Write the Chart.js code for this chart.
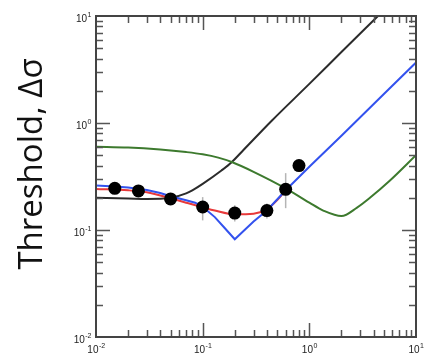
<!DOCTYPE html>
<html>
<head>
<meta charset="utf-8">
<script src="https://cdn.jsdelivr.net/npm/chart.js@4/dist/chart.umd.min.js"></script>
<style>
  html, body { margin: 0; padding: 0; background: #fff; }
  #wrap { width: 425px; height: 360px; }
</style>
</head>
<body>
<div id="wrap"><canvas id="chart"></canvas></div>
<script>
// measured points with error bars
const dotX = [0.015, 0.025, 0.05, 0.1, 0.2, 0.4, 0.6, 0.8];
const dotY = [0.245, 0.232, 0.195, 0.164, 0.144, 0.152, 0.24, 0.40];
const errLow = [null, null, null, 0.123, 0.12, 0.128, 0.16, null];
const errHigh = [null, null, null, 0.203, 0.17, 0.177, 0.34, null];

// model curves
const blueX = [0.01, 0.015, 0.02, 0.03, 0.04, 0.05, 0.07, 0.085, 0.1, 0.13, 0.16, 0.2, 0.3, 0.4, 0.6, 1, 2, 5, 10];
const blueY = [0.26, 0.255, 0.25, 0.237, 0.222, 0.207, 0.19, 0.18, 0.165, 0.132, 0.105, 0.082, 0.12, 0.152, 0.235, 0.39, 0.76, 1.87, 3.67];
const redX = [0.01, 0.02, 0.03, 0.05, 0.07, 0.1, 0.13, 0.2, 0.3, 0.4, 0.5, 0.6];
const redY = [0.242, 0.235, 0.225, 0.198, 0.18, 0.163, 0.152, 0.14, 0.142, 0.156, 0.19, 0.235];
const blackX = [0.01, 0.02, 0.03, 0.05, 0.07, 0.08, 0.1, 0.15, 0.187, 0.24, 0.444, 1, 2, 4.4];
const blackY = [0.2, 0.197, 0.195, 0.2, 0.22, 0.235, 0.27, 0.36, 0.43, 0.556, 1.05, 2.32, 4.6, 10];
const greenX = [0.01, 0.02, 0.04, 0.07, 0.1, 0.14, 0.19, 0.3, 0.6, 1, 1.35, 2, 2.8, 3.7, 5.7, 10];
const greenY = [0.60, 0.59, 0.565, 0.535, 0.51, 0.475, 0.43, 0.35, 0.245, 0.18, 0.152, 0.135, 0.162, 0.2, 0.29, 0.5];

const xTicks = [0.01, 0.1, 1, 10];
const yTicks = [0.01, 0.1, 1, 10];
const tickExp = { 0.01: '-2', 0.1: '-1', 1: '0', 10: '1' };
const yTitle = 'Threshold, Δσ';

function pts(xs, ys) {
  return xs.map((x, i) => ({ x: x, y: ys[i] }));
}

function line(xs, ys, color, mode) {
  return {
    data: pts(xs, ys),
    showLine: true,
    borderColor: color,
    borderWidth: 2,
    pointRadius: 0,
    fill: false,
    tension: mode ? 0.4 : 0,
    cubicInterpolationMode: mode ? 'monotone' : 'default'
  };
}

// "10" with a raised exponent
function powLabel(ctx, v, x, y, align) {
  const base = '10', exp = tickExp[v];
  ctx.font = '10px "Liberation Sans"';
  const wb = ctx.measureText(base).width;
  ctx.font = '7px "Liberation Sans"';
  const we = ctx.measureText(exp).width;
  let x0 = align === 'right' ? x - wb - we : x - (wb + we) / 2;
  ctx.font = '10px "Liberation Sans"';
  ctx.fillText(base, x0, y);
  ctx.font = '7px "Liberation Sans"';
  ctx.fillText(exp, x0 + wb + 0.5, y - 5);
}

// inward ticks on all four sides + frame + error bars + labels
const decor = {
  id: 'decor',
  beforeDatasetsDraw(chart) {
    const ctx = chart.ctx;
    const xs = chart.scales.x, ys = chart.scales.y;
    ctx.save();
    ctx.strokeStyle = '#b5b5b5';
    ctx.lineWidth = 1.5;
    dotX.forEach((x, i) => {
      if (errLow[i] == null) return;
      const px = xs.getPixelForValue(x);
      ctx.beginPath();
      ctx.moveTo(px, ys.getPixelForValue(errLow[i]));
      ctx.lineTo(px, ys.getPixelForValue(errHigh[i]));
      ctx.stroke();
    });
    ctx.restore();
  },
  afterDraw(chart) {
    const ctx = chart.ctx;
    const a = chart.chartArea;
    const xs = chart.scales.x, ys = chart.scales.y;
    ctx.save();
    ctx.strokeStyle = '#555';
    ctx.lineWidth = 1.5;
    ctx.beginPath();
    for (let e = -2; e < 1; e++) {
      for (let k = 1; k < 10; k++) {
        const v = k * Math.pow(10, e);
        const len = k === 1 ? 14 : 7;
        if (k === 1 && e === -2) continue;
        const px = Math.round(xs.getPixelForValue(v)) + 0.5;
        ctx.moveTo(px, a.bottom); ctx.lineTo(px, a.bottom - len);
        ctx.moveTo(px, a.top); ctx.lineTo(px, a.top + len);
        const py = Math.round(ys.getPixelForValue(v)) + 0.5;
        ctx.moveTo(a.left, py); ctx.lineTo(a.left + len, py);
        ctx.moveTo(a.right, py); ctx.lineTo(a.right - len, py);
      }
    }
    ctx.stroke();
    ctx.strokeStyle = '#444';
    ctx.lineWidth = 2;
    ctx.strokeRect(a.left, a.top, a.right - a.left, a.bottom - a.top);

    ctx.fillStyle = '#222';
    ctx.textAlign = 'left';
    ctx.textBaseline = 'alphabetic';
    xs.ticks.forEach(t => powLabel(ctx, t.value, xs.getPixelForValue(t.value), a.bottom + 16, 'center'));
    ys.ticks.forEach(t => powLabel(ctx, t.value, a.left - 5, ys.getPixelForValue(t.value) + 6, 'right'));

    ctx.fillStyle = '#111';
    ctx.font = '33px "Open Sans"';
    ctx.textAlign = 'center';
    ctx.translate(42, 164);
    ctx.rotate(-Math.PI / 2);
    ctx.fillText(yTitle, 0, 0);
    ctx.restore();
  }
};

const datasets = [
  {
    data: pts(dotX, dotY),
    showLine: false,
    pointRadius: 6.5,
    pointBackgroundColor: '#000',
    pointBorderColor: '#000',
    pointBorderWidth: 0
  },
  line(blueX, blueY, '#3352ee', false),
  line(redX, redY, '#e8393a', true),
  line(greenX, greenY, '#3d7a2e', true),
  line(blackX, blackY, '#2b2b2b', true)
];

new Chart(document.getElementById('chart'), {
  type: 'scatter',
  data: { datasets: datasets },
  options: {
    responsive: true,
    maintainAspectRatio: false,
    animation: false,
    layout: { padding: { left: 0, right: 9, top: 16, bottom: 0 } },
    plugins: { legend: { display: false }, tooltip: { enabled: false } },
    scales: {
      x: {
        type: 'logarithmic',
        min: 0.01,
        max: 10,
        afterBuildTicks: s => { s.ticks = xTicks.map(v => ({ value: v })); },
        afterFit: s => { s.height = 23; },
        grid: { display: false, drawTicks: false },
        border: { display: false },
        ticks: { display: false }
      },
      y: {
        type: 'logarithmic',
        min: 0.01,
        max: 10,
        afterBuildTicks: s => { s.ticks = yTicks.map(v => ({ value: v })); },
        afterFit: s => { s.width = 96; },
        grid: { display: false, drawTicks: false },
        border: { display: false },
        ticks: { display: false }
      }
    }
  },
  plugins: [decor]
});
</script>
</body>
</html>
